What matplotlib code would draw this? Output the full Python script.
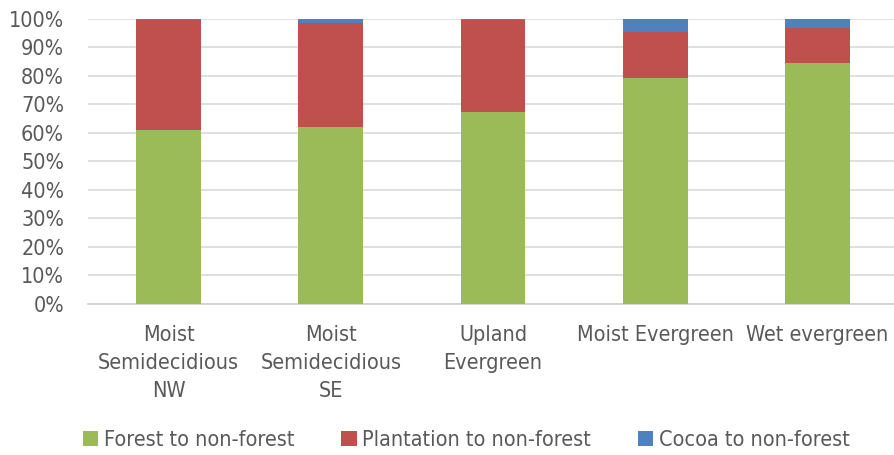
import matplotlib
matplotlib.use('Agg')
import matplotlib.pyplot as plt
from matplotlib.ticker import PercentFormatter
import numpy as np

# Share of deforestation drivers by forest zone (percent)
zones = ['Moist\nSemidecidious\nNW', 'Moist\nSemidecidious\nSE', 'Upland\nEvergreen',
         'Moist Evergreen', 'Wet evergreen']
forest = [61.0, 62.0, 67.2, 79.3, 84.6]
plantation = [38.5, 36.5, 32.4, 16.1, 12.1]
cocoa = [0.5, 1.5, 0.4, 4.6, 3.3]

series_names = ['Forest to non-forest', 'Plantation to non-forest', 'Cocoa to non-forest']
colors = ['#9BBB59', '#C0504D', '#4F81BD']

plt.rcParams['font.family'] = ['DejaVu Sans']
plt.rcParams['font.stretch'] = 'condensed'
text_color = '#595959'
fs = 15.5

fig = plt.figure(figsize=(8.94, 4.55), dpi=100)
ax = fig.add_axes([0.098, 0.332, 0.907, 0.627])

x = np.arange(len(zones))
width = 0.4
bottom = np.zeros(len(zones))
for vals, name, c in zip([forest, plantation, cocoa], series_names, colors):
    ax.bar(x, vals, width, bottom=bottom, color=c, label=name, zorder=3)
    bottom += np.array(vals)

ax.set_xlim(-0.5, len(zones) - 0.5)
ax.set_ylim(0, 100)
ax.set_yticks(np.arange(0, 101, 10))
ax.yaxis.set_major_formatter(PercentFormatter(decimals=0))
ax.set_xticks(x)
ax.set_xticklabels(zones, linespacing=1.5)

ax.grid(axis='y', color='#d9d9d9', linewidth=1.2, zorder=0)
for side in ['top', 'right', 'left']:
    ax.spines[side].set_visible(False)
ax.spines['bottom'].set_color('#d0d0d0')
ax.spines['bottom'].set_linewidth(1.2)
ax.tick_params(axis='both', length=0, labelsize=fs, colors=text_color)
ax.tick_params(axis='x', pad=15)
ax.tick_params(axis='y', pad=17)

leg = fig.legend(loc='center left', bbox_to_anchor=(0.093, 0.032), ncol=3, frameon=False,
                 fontsize=fs, handlelength=0.7, handleheight=0.7, handletextpad=0.25,
                 columnspacing=2.2, borderpad=0, borderaxespad=0)
for t in leg.get_texts():
    t.set_color(text_color)

plt.savefig('out.png', dpi=100)
